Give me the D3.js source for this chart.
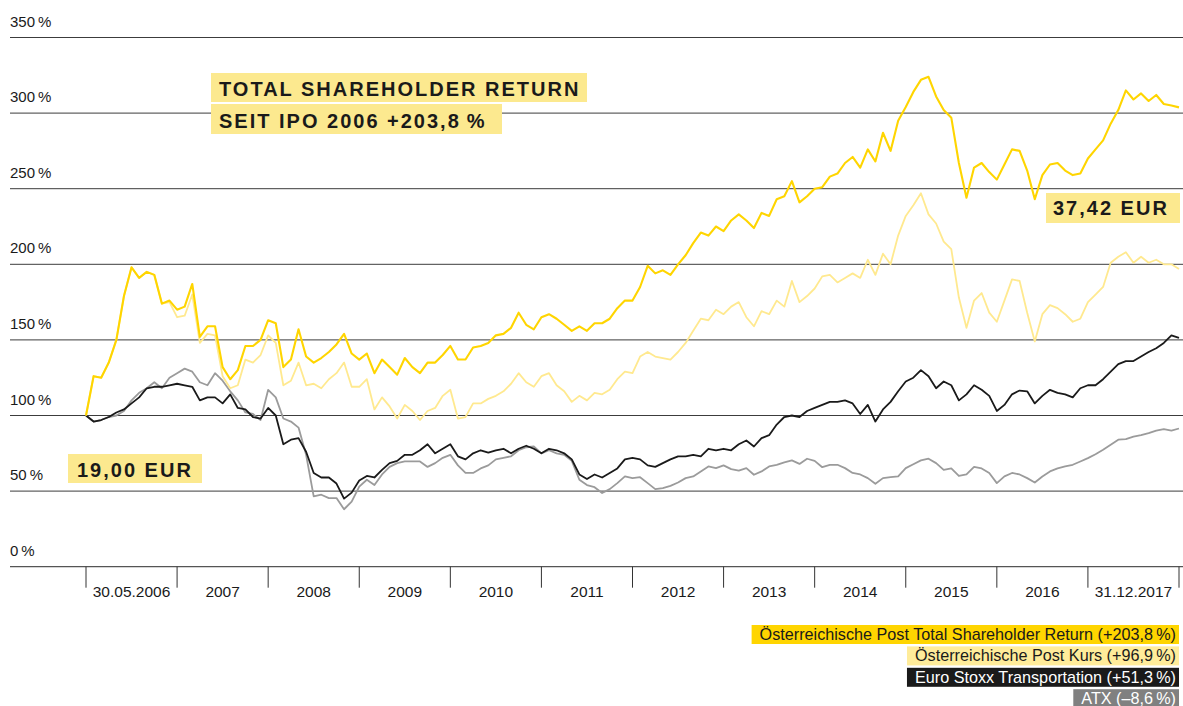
<!DOCTYPE html>
<html>
<head>
<meta charset="utf-8">
<script src="https://cdn.jsdelivr.net/npm/d3@7"></script>
<style>
body { margin: 0; background: #fff; }
text { font-family: "Liberation Sans", Arial, sans-serif; fill: #1a1a1a; }
</style>
</head>
<body>
<script>
var w = 1183;
var h = 706;

// x axis periods (each period has the same width in the original)
var periods = ["30.05.2006", "2007", "2008", "2009", "2010", "2011", "2012", "2013", "2014", "2015", "2016", "31.12.2017"];
var stepsPerPeriod = 12;
var yTicks = [0, 50, 100, 150, 200, 250, 300, 350];

// indexed performance, 100 = IPO
var tsr = [100,126,125,135,150,179,198,191,195,193,174,176,
  170,172,187,152,159,159,132,124,130,146,146,150,
  163,161,132,137,157,139,135,138,142,147,154,141,
  137,141,128,137,132,127,138,132,128,135,135,140,
  146,137,137,145,146,148,153,154,158,168,160,157,
  165,167,164,160,156,159,156,161,161,164,171,176,
  176,185,199,194,196,193,200,206,214,221,219,225,
  222,229,233,229,224,234,232,243,245,255,241,245,
  250,251,258,260,267,271,264,276,268,287,275,295,
  304,314,322,324,311,302,297,267,244,264,267,261,
  256,266,276,275,262,243,259,266,267,262,259,260,
  270,276,282,293,302,315,309,313,308,312,306,305,
  303.8];

var kurs = [100,126,125,135,150,179,198,191,195,193,174,175,
  165,166,180,148,154,153,126,118,120,137,135,140,
  153,148,120,123,135,120,121,118,124,128,135,119,
  119,124,104,112,106,98,107,103,97,103,105,113,
  117,98,99,108,108,111,113,116,121,128,122,119,
  126,128,120,116,109,113,110,115,114,117,124,129,
  128,139,142,139,138,137,142,148,156,164,163,170,
  167,172,175,165,159,169,167,176,172,189,175,179,
  184,192,193,188,191,194,191,203,193,207,200,219,
  232,239,247,233,227,215,210,178,158,176,181,168,
  162,176,190,189,168,149,167,173,171,167,162,164,
  175,180,185,201,205,208,201,205,201,203,200,200,
  196.9];

var stoxx = [100,96,97,99,102,104,108,112,118,119,119,120,
  121,120,119,110,112,112,108,114,105,104,99,98,
  105,100,81,84,85,76,62,59,59,55,45,49,
  57,60,59,64,68.5,70,74,74,77,81,75,78,
  81,73,71,75,77,75.5,77,78,75,78,80,78,
  75,78,77,75,71,61,58,61,59,62,65,71,
  72,71,67,66,68.5,71,73,73,74,73,78,77,
  78,77,81,83.5,79.5,85,87,94,99,100,99,103,
  105,107,109,109,110,108,101,107,96,104,109,116,
  122.5,125,130,126,118,122.5,120,110,114,120,117,113,
  103,107,114,116.5,116,108,113,117,115,114,112,118,
  120,120,124,129,134,136,136,139,142,144.5,148,153,
  151.3];

var atx = [100,96,97,99,100,103,110,115,118,122,118,125,
  128,131,129,122,120,128,123,116,110,102,101,97,
  117,112,98,96,92,74,46.5,47.6,45.4,45.4,38,43,
  53,57.5,54,61,66,68.5,69.6,69.6,69.6,66,68.5,72,
  74,67,62,62,65,67,71,72,73,77,79,79.5,
  75,77,75,74,70,57.5,54,52.6,48.7,51.3,55.3,59.7,
  58.6,59.2,55.3,51.3,52,53.5,55.7,58.6,59.7,63,66.3,65.2,
  67,64.5,63.6,65.2,60.8,63,66.3,67.4,69,70.3,68,71.4,
  70,65.8,67.4,67.4,65.2,62,61,58.6,54.8,58.6,59.2,59.7,
  65.2,67.8,70.3,71.4,68.5,64,65,60,61,66,65,62,
  55.3,59.7,62,61,58.6,55.7,59.7,63,65,66.3,67.4,69.6,
  71.8,74.4,77.3,80.6,84,84.4,86,87,88.3,90,91,90,
  91.4];

var legendLabels = [
  "Österreichische Post Total Shareholder Return (+203,8\u2009%)",
  "Österreichische Post Kurs (+96,9\u2009%)",
  "Euro Stoxx Transportation (+51,3\u2009%)",
  "ATX (\u20138,6\u2009%)"
];
var titleLines = ["TOTAL SHAREHOLDER RETURN", "SEIT IPO 2006 +203,8\u2009%"];
var startPrice = "19,00 EUR";
var endPrice = "37,42 EUR";

var lineColors = ["#FFD500", "#FFE98F", "#1a1a1a", "#9b9b9b"];
var boxColors = ["#FFD500", "#FFEC9A", "#1a1a1a", "#808080"];
var boxText = ["#1a1a1a", "#1a1a1a", "#ffffff", "#ffffff"];
var labelFill = "#FCE98F";

var x = d3.scaleLinear().domain([0, periods.length]).range([86, 1179]);
var y = d3.scaleLinear().domain([0, 350]).range([566.7, 37.5]);

var svg = d3.select("body")
  .append("svg")
  .attr("width", w)
  .attr("height", h);

// grid + y labels
svg.selectAll(".grid")
  .data(yTicks.filter(function(d) { return d > 0; }))
  .enter()
  .append("line")
  .attr("x1", 10)
  .attr("x2", w)
  .attr("y1", function(d) { return y(d); })
  .attr("y2", function(d) { return y(d); })
  .attr("stroke", "#3c3c3c")
  .attr("stroke-width", 1);

svg.selectAll(".ylab")
  .data(yTicks)
  .enter()
  .append("text")
  .attr("x", 10)
  .attr("y", function(d) { return y(d) - 11; })
  .attr("font-size", "15px")
  .text(function(d) { return d + "\u2009%"; });

// x axis
svg.append("line")
  .attr("x1", 10)
  .attr("x2", w)
  .attr("y1", y(0))
  .attr("y2", y(0))
  .attr("stroke", "#555")
  .attr("stroke-width", 1.3);

svg.selectAll(".xtick")
  .data(d3.range(periods.length + 1))
  .enter()
  .append("line")
  .attr("x1", function(d) { return x(d); })
  .attr("x2", function(d) { return x(d); })
  .attr("y1", y(0))
  .attr("y2", y(0) + 21)
  .attr("stroke", "#333")
  .attr("stroke-width", 1);

svg.selectAll(".xlab")
  .data(periods)
  .enter()
  .append("text")
  .attr("x", function(d, i) { return x(i + 0.5); })
  .attr("y", 597)
  .attr("text-anchor", "middle")
  .attr("font-family", "Roboto, 'Liberation Sans', sans-serif")
  .attr("font-weight", 500)
  .attr("font-size", "15.5px")
  .text(function(d) { return d; });

// lines, bottom to top
var line = d3.line()
  .x(function(d, i) { return x(i / stepsPerPeriod); })
  .y(function(d) { return y(d); });

var series = [atx, stoxx, kurs, tsr];
var seriesColors = [lineColors[3], lineColors[2], lineColors[1], lineColors[0]];
svg.selectAll(".series")
  .data(series)
  .enter()
  .append("path")
  .attr("d", line)
  .attr("fill", "none")
  .attr("stroke", function(d, i) { return seriesColors[i]; })
  .attr("stroke-width", function(d, i) { return i == 3 ? 2.1 : 1.8; })
  .attr("stroke-linejoin", "round");

// boxed labels
function boxLabel(txt, tx, ty, x0, y0, bw, bh) {
  svg.append("rect")
    .attr("x", x0).attr("y", y0)
    .attr("width", bw).attr("height", bh)
    .attr("fill", labelFill);
  svg.append("text")
    .attr("x", tx).attr("y", ty)
    .attr("font-size", "20px")
    .attr("font-weight", "bold")
    .attr("letter-spacing", "2px")
    .text(txt);
}
boxLabel(titleLines[0], 219, 96, 211, 73, 376, 29);
boxLabel(titleLines[1], 219, 127.5, 211, 104, 291, 30);
boxLabel(startPrice, 77, 477, 68, 454, 134, 29);
boxLabel(endPrice, 1053, 215, 1046, 193, 134, 30);

// legend, right aligned
var lg = svg.selectAll(".legend")
  .data(legendLabels)
  .enter()
  .append("g")
  .attr("transform", function(d, i) { return "translate(0," + (625 + i * 21.4) + ")"; });

lg.append("rect")
  .attr("y", 0)
  .attr("height", 19)
  .attr("fill", function(d, i) { return boxColors[i]; });

lg.append("text")
  .attr("x", 1176)
  .attr("y", 15)
  .attr("text-anchor", "end")
  .attr("font-size", "16.2px")
  .style("fill", function(d, i) { return boxText[i]; })
  .text(function(d) { return d; });

lg.each(function() {
  var g = d3.select(this);
  var len = g.select("text").node().getComputedTextLength();
  g.select("rect")
    .attr("x", 1176 - len - 8)
    .attr("width", len + 11);
});
</script>
</body>
</html>
